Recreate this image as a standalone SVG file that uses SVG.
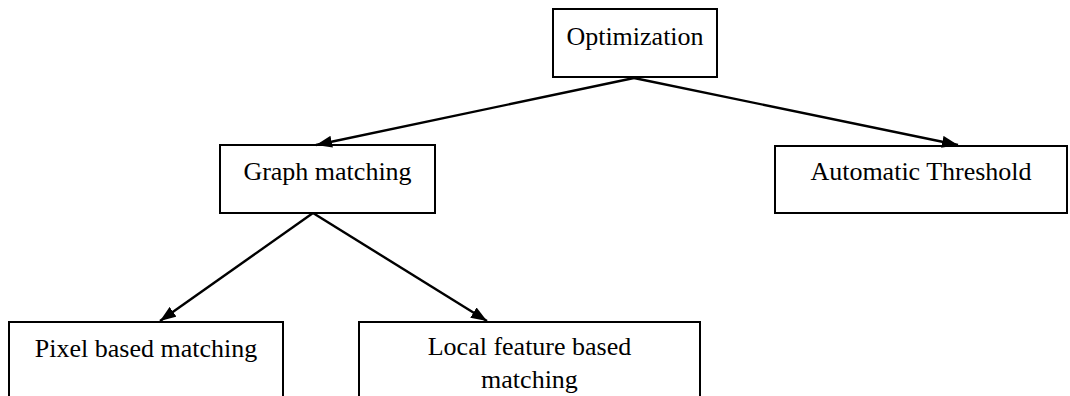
<svg xmlns="http://www.w3.org/2000/svg" width="1070" height="396" viewBox="0 0 1070 396">
  <style>
    .box { fill: #ffffff; stroke: #000000; stroke-width: 2; }
    .label { font-family: "Liberation Serif", "Times New Roman", serif; font-size: 26px; fill: #000000; text-anchor: middle; }
    .edge { stroke: #000000; stroke-width: 2.4; fill: none; marker-end: url(#arrow); }
  </style>
  <defs>
    <marker id="arrow" markerWidth="16" markerHeight="12" refX="16" refY="6" orient="auto" markerUnits="userSpaceOnUse">
      <path d="M0,0 L16,6 L0,12 Z" fill="#000000"/>
    </marker>
  </defs>
  <rect width="1070" height="396" fill="#ffffff"/>

  <g id="optimization">
    <rect class="box" x="553" y="9" width="164" height="68"/>
    <text class="label" x="635" y="45">Optimization</text>
  </g>

  <g id="graph-matching">
    <rect class="box" x="220" y="145" width="215" height="68"/>
    <text class="label" x="327.5" y="180">Graph matching</text>
  </g>

  <g id="automatic-threshold">
    <rect class="box" x="775" y="146" width="292" height="67"/>
    <text class="label" x="921" y="180">Automatic Threshold</text>
  </g>

  <g id="pixel-based-matching">
    <rect class="box" x="9" y="322" width="274" height="90"/>
    <text class="label" x="146" y="357">Pixel based matching</text>
  </g>

  <g id="local-feature-based-matching">
    <rect class="box" x="359" y="322" width="341" height="90"/>
    <text class="label" x="529.5" y="355">Local feature based</text>
    <text class="label" x="529.5" y="388">matching</text>
  </g>

  <g id="connectors">
    <line class="edge" x1="634" y1="78" x2="316" y2="145"/>
    <line class="edge" x1="634" y1="78" x2="958" y2="145"/>
    <line class="edge" x1="313" y1="213" x2="160" y2="321"/>
    <line class="edge" x1="313" y1="213" x2="487" y2="321"/>
  </g>
</svg>
